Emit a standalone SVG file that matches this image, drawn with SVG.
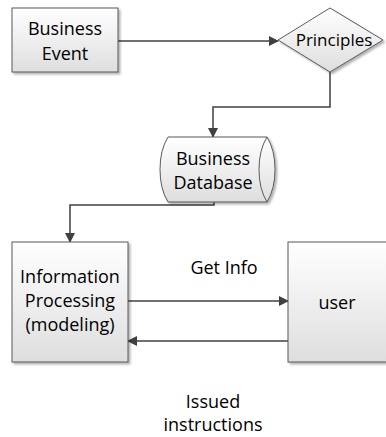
<svg xmlns="http://www.w3.org/2000/svg" width="386" height="437" viewBox="0 0 386 437">
<defs>
<linearGradient id="g" x1="0" y1="0" x2="0" y2="1">
<stop offset="0" stop-color="#ffffff"/>
<stop offset="1" stop-color="#dedede"/>
</linearGradient>
<filter id="sh" x="-10%" y="-10%" width="130%" height="130%">
<feGaussianBlur in="SourceAlpha" stdDeviation="1.2"/>
<feOffset dx="2" dy="2" result="b"/>
<feComponentTransfer><feFuncA type="linear" slope="0.3"/></feComponentTransfer>
<feMerge><feMergeNode/><feMergeNode in="SourceGraphic"/></feMerge>
</filter>
<marker id="ah" markerWidth="10" markerHeight="10" refX="9" refY="5" orient="auto" markerUnits="userSpaceOnUse">
<path d="M0,0 L10,5 L0,10 Z" fill="#404040"/>
</marker>
</defs>
<style>
.n{fill:url(#g);stroke:#595959;stroke-width:1;filter:url(#sh)}
.t{font-family:"Open Sans","Noto Sans",sans-serif;font-size:18px;fill:#000;text-anchor:middle}
.p{font-size:17px}
.c{fill:none;stroke:#404040;stroke-width:1.5}
</style>
<g id="connectors">
<path class="c" d="M118,41 H278" marker-end="url(#ah)"/>
<path class="c" d="M330,72 V107 H213 V137" marker-end="url(#ah)"/>
<path class="c" d="M214,202 V205 H70 V242" marker-end="url(#ah)"/>
<path class="c" d="M128,301 H288" marker-end="url(#ah)"/>
<path class="c" d="M288,341 H128" marker-end="url(#ah)"/>
</g>
<g id="business-event">
<rect class="n" x="12" y="8" width="106" height="64"/>
<text class="t" x="65" y="35">Business</text>
<text class="t" x="65" y="60">Event</text>
</g>
<g id="principles">
<path class="n" d="M278,40 L330,8 L383,40 L330,72 Z"/>
<text class="t p" x="334" y="46">Principles</text>
</g>
<g id="business-database">
<path class="n" d="M168,137 H267 Q275,150 275,169.5 Q275,189 267,202 H168 Q160,189 160,169.5 Q160,150 168,137 Z"/>
<path d="M267,137 Q259,150 259,169.5 Q259,189 267,202" fill="none" stroke="#595959" stroke-width="1"/>
<text class="t" x="213" y="165">Business</text>
<text class="t" x="213" y="189">Database</text>
</g>
<g id="information-processing">
<rect class="n" x="12" y="242" width="116" height="120"/>
<text class="t" x="70" y="283">Information</text>
<text class="t" x="70" y="307">Processing</text>
<text class="t" x="70" y="331">(modeling)</text>
</g>
<g id="user">
<rect class="n" x="288" y="242" width="110" height="120"/>
<text class="t" x="337" y="309">user</text>
</g>
<text class="t" x="224" y="274">Get Info</text>
<text class="t" x="213" y="408">Issued</text>
<text class="t" x="213" y="431">instructions</text>
</svg>
